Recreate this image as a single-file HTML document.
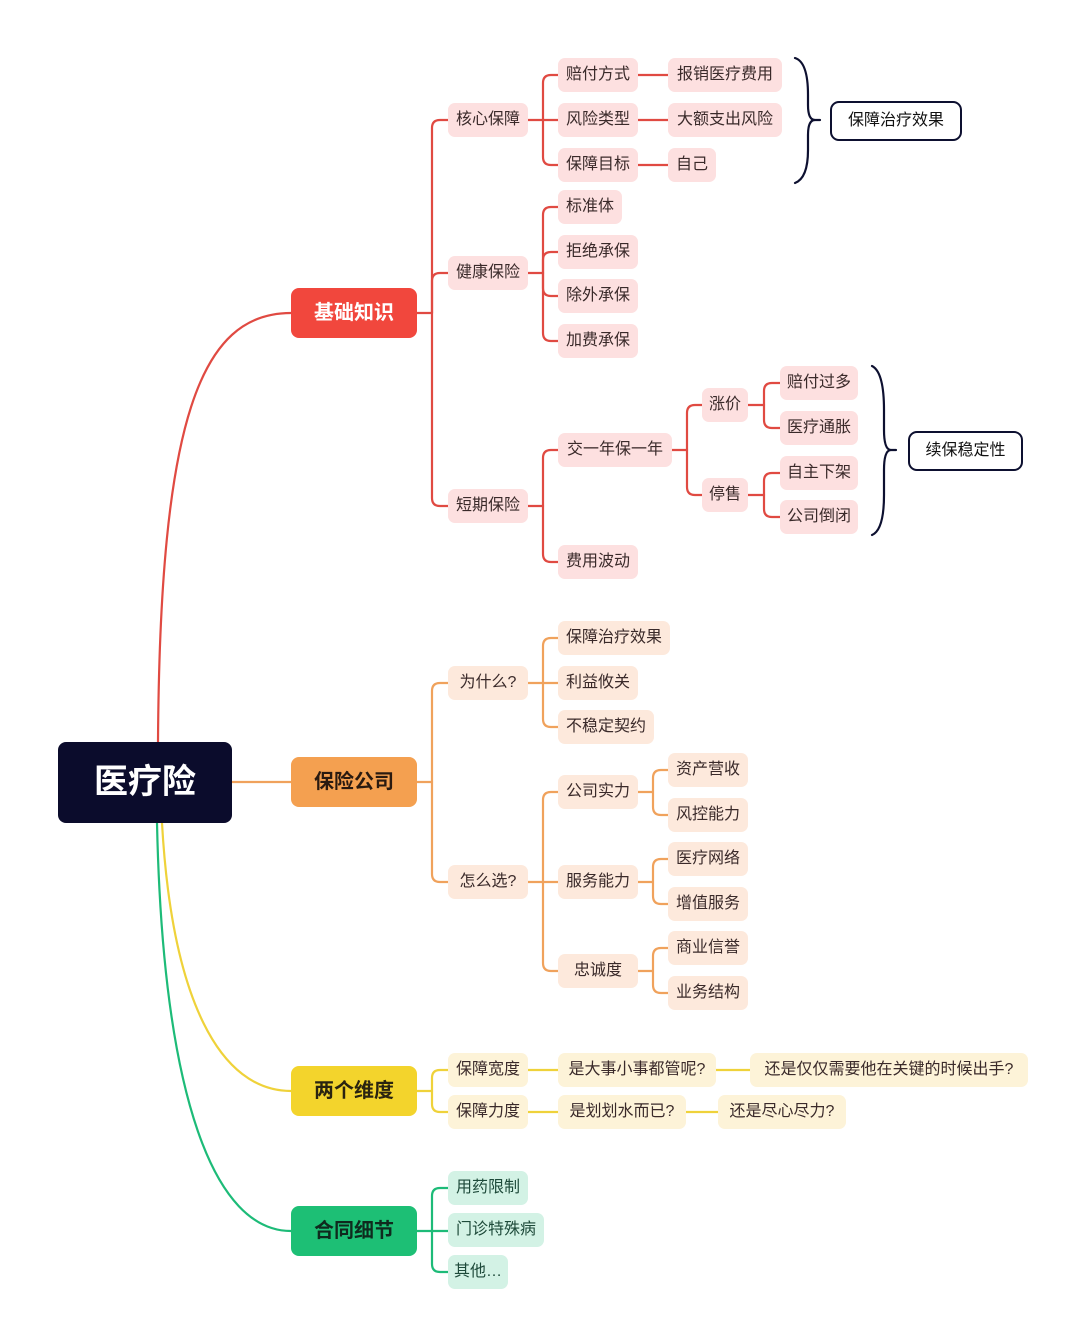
<!DOCTYPE html>
<html><head><meta charset="utf-8">
<style>
html,body{margin:0;padding:0;background:#fff;}
body{width:1080px;height:1340px;position:relative;overflow:hidden;font-family:"Liberation Sans","Noto Sans CJK SC",sans-serif;}
.n{position:absolute;height:34px;line-height:34px;border-radius:7px;font-size:16px;color:#3a2a2a;text-align:center;white-space:nowrap;}
.r{background:#fde0e0;}
.o{background:#fde9dc;}
.y{background:#fdf3d8;}
.g{background:#d3f2e5;color:#1e4a3a;}
.m{position:absolute;height:50px;line-height:50px;border-radius:8px;font-size:20px;font-weight:bold;text-align:center;}
.b{position:absolute;border:2px solid #0d1030;border-radius:9px;background:#fff;font-size:16px;color:#111;text-align:center;line-height:36px;height:36px;}
svg{position:absolute;left:0;top:0;}
</style></head><body>
<svg width="1080" height="1340" fill="none" stroke-linecap="round">
<g stroke="#e04a42" stroke-width="2.2">
<path d="M158,742 C160,420 200,313 291,313"/>
<path d="M417,313 H432"/>
<path d="M432,313 V128 Q432,120 440,120 H448"/>
<path d="M432,313 V281 Q432,273 440,273 H448"/>
<path d="M432,313 V498 Q432,506 440,506 H448"/>
<path d="M528,120 H543"/>
<path d="M543,120 V83 Q543,75 551,75 H558"/>
<path d="M543,120 H558"/>
<path d="M543,120 V157 Q543,165 551,165 H558"/>
<path d="M638,75 H668 M638,120 H668 M638,165 H668"/>
<path d="M528,273 H543"/>
<path d="M543,273 V215 Q543,207 551,207 H558"/>
<path d="M543,273 V260 Q543,252 551,252 H558"/>
<path d="M543,273 V288 Q543,296 551,296 H558"/>
<path d="M543,273 V333 Q543,341 551,341 H558"/>
<path d="M528,506 H543"/>
<path d="M543,506 V458 Q543,450 551,450 H558"/>
<path d="M543,506 V554 Q543,562 551,562 H558"/>
<path d="M672,450 H687"/>
<path d="M687,450 V413 Q687,405 695,405 H702"/>
<path d="M687,450 V487 Q687,495 695,495 H702"/>
<path d="M748,405 H764"/>
<path d="M764,405 V391 Q764,383 772,383 H780"/>
<path d="M764,405 V420 Q764,428 772,428 H780"/>
<path d="M748,495 H764"/>
<path d="M764,495 V481 Q764,473 772,473 H780"/>
<path d="M764,495 V509 Q764,517 772,517 H780"/>
</g>
<g stroke="#0d1030" stroke-width="2.2">
<path d="M795,58 Q808,62 808,95 V105 Q808,120 815,120 Q808,120 808,135 V150 Q808,178 795,183"/>
<path d="M815,120 H820"/>
<path d="M872,366 Q884,372 884,410 V430 Q884,450 891,450 Q884,450 884,470 V495 Q884,530 872,535"/>
<path d="M891,450 H896"/>
</g>
<g stroke="#f0a25c" stroke-width="2.2">
<path d="M232,782 H291"/>
<path d="M417,782 H432"/>
<path d="M432,782 V691 Q432,683 440,683 H448"/>
<path d="M432,782 V874 Q432,882 440,882 H448"/>
<path d="M528,683 H543"/>
<path d="M543,683 V646 Q543,638 551,638 H558"/>
<path d="M543,683 H558"/>
<path d="M543,683 V719 Q543,727 551,727 H558"/>
<path d="M528,882 H543"/>
<path d="M543,882 V800 Q543,792 551,792 H558"/>
<path d="M543,882 H558"/>
<path d="M543,882 V963 Q543,971 551,971 H558"/>
<path d="M638,792 H653 M653,792 V778 Q653,770 661,770 H668 M653,792 V807 Q653,815 661,815 H668"/>
<path d="M638,882 H653 M653,882 V867 Q653,859 661,859 H668 M653,882 V896 Q653,904 661,904 H668"/>
<path d="M638,971 H653 M653,971 V956 Q653,948 661,948 H668 M653,971 V985 Q653,993 661,993 H668"/>
</g>
<g stroke="#efd23a" stroke-width="2.2">
<path d="M162,823 C172,1000 220,1091 291,1091"/>
<path d="M417,1091 H432"/>
<path d="M432,1091 V1078 Q432,1070 440,1070 H448"/>
<path d="M432,1091 V1104 Q432,1112 440,1112 H448"/>
<path d="M528,1070 H558 M716,1070 H750 M528,1112 H558 M686,1112 H718"/>
</g>
<g stroke="#1dbb78" stroke-width="2.2">
<path d="M157,823 C163,1100 215,1231 291,1231"/>
<path d="M417,1231 H432"/>
<path d="M432,1231 V1196 Q432,1188 440,1188 H448"/>
<path d="M432,1231 H448"/>
<path d="M432,1231 V1264 Q432,1272 440,1272 H448"/>
</g>
</svg>

<div style="position:absolute;left:58px;top:742px;width:174px;height:81px;line-height:81px;background:#0b0c2c;border-radius:8px;color:#fff;font-size:34px;font-weight:bold;text-align:center;">医疗险</div>
<div class="m" style="left:291px;top:288px;width:126px;background:#f1473d;color:#fff;">基础知识</div>
<div class="m" style="left:291px;top:757px;width:126px;background:#f4a050;color:#2a1a10;">保险公司</div>
<div class="m" style="left:291px;top:1066px;width:126px;background:#f3d42c;color:#2a2410;">两个维度</div>
<div class="m" style="left:291px;top:1206px;width:126px;background:#1dbf75;color:#0f2a1e;">合同细节</div>

<div class="n r" style="left:448px;top:103px;width:80px;">核心保障</div>
<div class="n r" style="left:448px;top:256px;width:80px;">健康保险</div>
<div class="n r" style="left:448px;top:489px;width:80px;">短期保险</div>
<div class="n r" style="left:558px;top:58px;width:80px;">赔付方式</div>
<div class="n r" style="left:558px;top:103px;width:80px;">风险类型</div>
<div class="n r" style="left:558px;top:148px;width:80px;">保障目标</div>
<div class="n r" style="left:668px;top:58px;width:114px;">报销医疗费用</div>
<div class="n r" style="left:668px;top:103px;width:114px;">大额支出风险</div>
<div class="n r" style="left:668px;top:148px;width:48px;">自己</div>
<div class="b" style="left:830px;top:101px;width:128px;">保障治疗效果</div>
<div class="n r" style="left:558px;top:190px;width:64px;">标准体</div>
<div class="n r" style="left:558px;top:235px;width:80px;">拒绝承保</div>
<div class="n r" style="left:558px;top:279px;width:80px;">除外承保</div>
<div class="n r" style="left:558px;top:324px;width:80px;">加费承保</div>
<div class="n r" style="left:558px;top:433px;width:114px;">交一年保一年</div>
<div class="n r" style="left:558px;top:545px;width:80px;">费用波动</div>
<div class="n r" style="left:702px;top:388px;width:46px;">涨价</div>
<div class="n r" style="left:702px;top:478px;width:46px;">停售</div>
<div class="n r" style="left:780px;top:366px;width:78px;">赔付过多</div>
<div class="n r" style="left:780px;top:411px;width:78px;">医疗通胀</div>
<div class="n r" style="left:780px;top:456px;width:78px;">自主下架</div>
<div class="n r" style="left:780px;top:500px;width:78px;">公司倒闭</div>
<div class="b" style="left:908px;top:431px;width:111px;">续保稳定性</div>

<div class="n o" style="left:448px;top:666px;width:80px;">为什么?</div>
<div class="n o" style="left:448px;top:865px;width:80px;">怎么选?</div>
<div class="n o" style="left:558px;top:621px;width:112px;">保障治疗效果</div>
<div class="n o" style="left:558px;top:666px;width:80px;">利益攸关</div>
<div class="n o" style="left:558px;top:710px;width:96px;">不稳定契约</div>
<div class="n o" style="left:558px;top:775px;width:80px;">公司实力</div>
<div class="n o" style="left:558px;top:865px;width:80px;">服务能力</div>
<div class="n o" style="left:558px;top:954px;width:80px;">忠诚度</div>
<div class="n o" style="left:668px;top:753px;width:80px;">资产营收</div>
<div class="n o" style="left:668px;top:798px;width:80px;">风控能力</div>
<div class="n o" style="left:668px;top:842px;width:80px;">医疗网络</div>
<div class="n o" style="left:668px;top:887px;width:80px;">增值服务</div>
<div class="n o" style="left:668px;top:931px;width:80px;">商业信誉</div>
<div class="n o" style="left:668px;top:976px;width:80px;">业务结构</div>

<div class="n y" style="left:448px;top:1053px;width:80px;">保障宽度</div>
<div class="n y" style="left:448px;top:1095px;width:80px;">保障力度</div>
<div class="n y" style="left:558px;top:1053px;width:158px;">是大事小事都管呢?</div>
<div class="n y" style="left:750px;top:1053px;width:278px;">还是仅仅需要他在关键的时候出手?</div>
<div class="n y" style="left:558px;top:1095px;width:128px;">是划划水而已?</div>
<div class="n y" style="left:718px;top:1095px;width:128px;">还是尽心尽力?</div>

<div class="n g" style="left:448px;top:1171px;width:80px;">用药限制</div>
<div class="n g" style="left:448px;top:1213px;width:96px;">门诊特殊病</div>
<div class="n g" style="left:448px;top:1255px;width:60px;">其他…</div>
</body></html>
